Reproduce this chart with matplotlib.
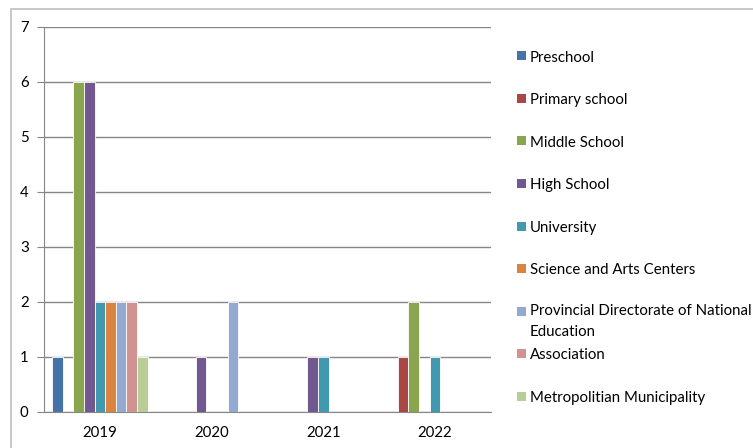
import numpy as np
import matplotlib
matplotlib.use("Agg")
import matplotlib.pyplot as plt
from matplotlib.patches import Rectangle

plt.rcParams['font.family'] = ['Lato', 'DejaVu Sans']

years = ['2019', '2020', '2021', '2022']
series = ['Preschool', 'Primary school', 'Middle School', 'High School', 'University',
          'Science and Arts Centers', 'Provincial Directorate of National\nEducation',
          'Association', 'Metropolitian Municipality']
colors = ['#4572A7', '#AA4643', '#89A54E', '#71588F', '#4198AF',
          '#DB843D', '#93A9CF', '#D19392', '#B9CD96']

preschool = [1, 0, 0, 0]
primary = [0, 0, 0, 1]
middle = [6, 0, 0, 2]
high = [6, 1, 1, 0]
university = [2, 0, 1, 1]
science_arts = [2, 0, 0, 0]
provincial = [2, 2, 0, 0]
association = [2, 0, 0, 0]
metropolitan = [1, 0, 0, 0]
values = [preschool, primary, middle, high, university,
          science_arts, provincial, association, metropolitan]

W, H = 753, 448
fig = plt.figure(figsize=(W / 100, H / 100), dpi=100)
ax = fig.add_axes([44 / W, 1 - 411.7 / H, 446.8 / W, 384.7 / H])

# clustered columns, gap width 150%
n = len(series)
bw = 1 / (n + 1.5)
x = np.arange(len(years)) + 0.5
for i, (vals, c) in enumerate(zip(values, colors)):
    ax.bar(x + (i - (n - 1) / 2) * bw, vals, width=bw, color=c,
           edgecolor='white', linewidth=0.6, zorder=3)

ax.set_xlim(0, len(years))
ax.set_ylim(0, 7)
ax.set_yticks(range(8))
ax.set_xticks(x)
ax.set_xticklabels(years)
ax.yaxis.grid(True, color='#868686', linewidth=1, zorder=0)
for s in ['top', 'right']:
    ax.spines[s].set_visible(False)
for s in ['left', 'bottom']:
    ax.spines[s].set_color('#868686')
ax.tick_params(axis='y', length=5, color='#868686', labelsize=10.8, pad=6, labelcolor='black')
ax.tick_params(axis='x', length=0, labelsize=10.8, pad=10, labelcolor='black')

# outer chart frame
fig.patches.append(Rectangle((11 / W, -0.1), 1.1, 1 - 9 / H + 0.1, transform=fig.transFigure,
                             fill=False, edgecolor='#BFBFBF', linewidth=1.2))

# legend column on the right
for i, (name, c) in enumerate(zip(series, colors)):
    yc = 56 + i * 42.5
    fig.patches.append(Rectangle((517 / W, 1 - (yc + 4.5) / H), 9 / W, 9 / H,
                                 transform=fig.transFigure, facecolor=c, edgecolor='none'))
    if '\n' in name:
        fig.text(530 / W, 1 - (yc - 7) / H, name, fontsize=10.8, va='top', ha='left',
                 linespacing=1.6, color='black')
    else:
        fig.text(530 / W, 1 - (yc + 1.5) / H, name, fontsize=10.8, va='center', ha='left',
                 color='black')

fig.savefig('out.png', dpi=100)
